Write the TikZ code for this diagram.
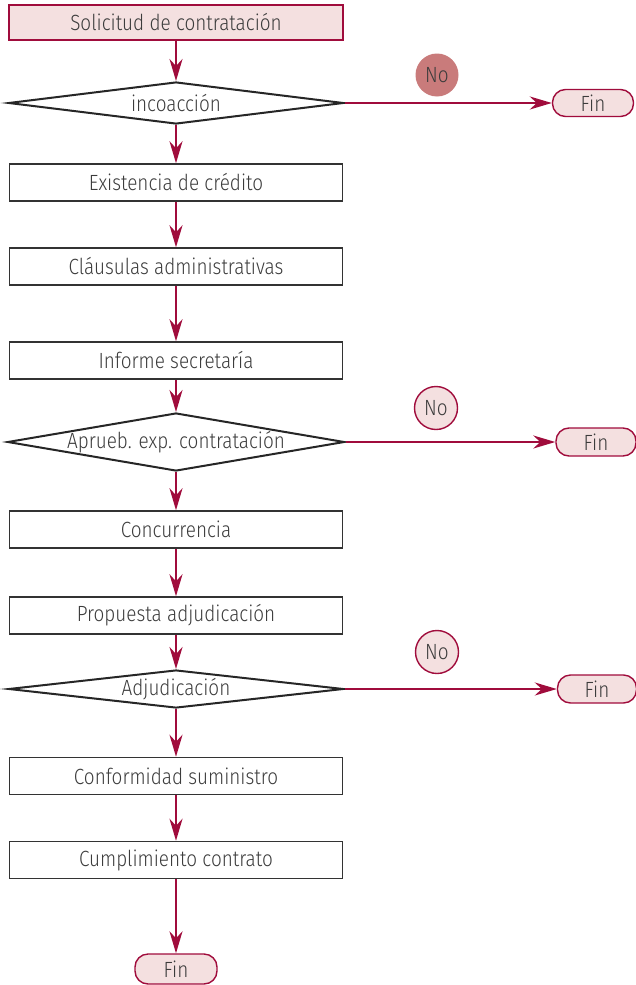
\documentclass[tikz,border=0pt]{standalone}
\usepackage{fontspec}
\setmainfont{Fira Sans Light}[FakeStretch=0.86]
\usepackage{xcolor}
\usetikzlibrary{calc,positioning,arrows.meta,shapes.geometric,shapes}

\definecolor{vino}{RGB}{160,12,60}
\definecolor{rosa}{RGB}{244,224,224}
\definecolor{rosaosc}{RGB}{201,123,123}
\definecolor{texto}{RGB}{60,60,60}

\begin{document}
\begin{tikzpicture}[x=1pt,y=-1pt,
  every node/.style={font=\fontsize{22}{24}\selectfont,text=texto},
  caja/.style={draw=black!80,line width=1.5pt,minimum width=333pt,minimum height=37pt,inner sep=0pt},
  inicio/.style={caja,draw=vino,fill=rosa,minimum width=334pt,minimum height=35pt},
  decision/.style={shape=diamond,draw=black!85,line width=2pt,aspect=8,inner sep=0pt,minimum width=335pt},
  fin/.style={draw=vino,fill=rosa,line width=1.4pt,rounded corners=13pt,minimum width=81pt,minimum height=28pt,inner sep=0pt},
  no/.style={circle,draw=vino,fill=rosa,line width=1.4pt,minimum size=43pt,inner sep=0pt},
  flecha/.style={draw=vino,line width=2.3pt,-{Stealth[length=22pt,width=13pt,inset=7pt]}}]
\useasboundingbox (0,0) rectangle (636,985);
\node[inicio] (sol) at (176,22.5) {Solicitud de contratación};
\node[decision,minimum height=42pt] (inc) at (176,103) {\makebox[0pt]{incoacción}};
\node[caja] (exi) at (176,182.5) {Existencia de crédito};
\node[caja] (cla) at (176,266.5) {Cláusulas administrativas};
\node[caja] (inf) at (176,360.5) {Informe secretaría};
\node[decision,minimum height=58pt,minimum width=337pt] (apr) at (176,442) {\makebox[0pt]{Aprueb. exp. contratación}};
\node[caja] (con) at (176,529.5) {Concurrencia};
\node[caja] (pro) at (176,615.5) {Propuesta adjudicación};
\node[decision,minimum height=38pt] (adj) at (176,689) {\makebox[0pt]{Adjudicación}};
\node[caja] (cof) at (176,776) {Conformidad suministro};
\node[caja] (cum) at (176,860) {Cumplimiento contrato};
\node[fin,minimum width=82pt,minimum height=30pt] (fincum) at (176,969) {Fin};
\node[fin,minimum height=27pt] (fininc) at (593,103) {Fin};
\node[fin,minimum width=80pt] (finapr) at (596,442) {Fin};
\node[fin,minimum width=79pt] (finadj) at (597,689) {Fin};
\node[no,draw=none,fill=rosaosc] (noinc) at (437,75) {No};
\node[no] (noapr) at (436,408) {No};
\node[no] (noadj) at (437,652) {No};
\draw[flecha] (sol) -- (inc);
\draw[flecha] (inc) -- (exi);
\draw[flecha] (exi) -- (cla);
\draw[flecha] (cla) -- (inf);
\draw[flecha] (inf) -- (apr);
\draw[flecha] (apr) -- (con);
\draw[flecha] (con) -- (pro);
\draw[flecha] (pro) -- (adj);
\draw[flecha] (adj) -- (cof);
\draw[flecha] (cof) -- (cum);
\draw[flecha] (cum) -- (fincum);
\draw[flecha] (inc.east) -- (fininc.west);
\draw[flecha] (apr.east) -- (finapr.west);
\draw[flecha] (adj.east) -- (finadj.west);
\end{tikzpicture}
\end{document}
